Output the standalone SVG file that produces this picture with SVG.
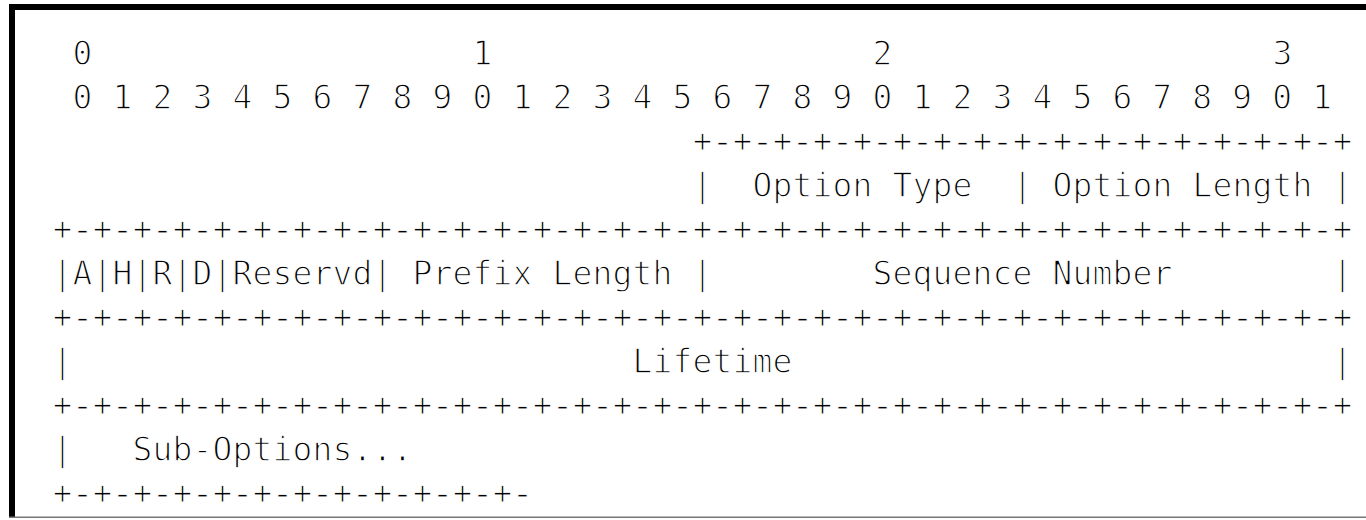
<svg xmlns="http://www.w3.org/2000/svg" width="1366" height="520" viewBox="0 0 1366 520">
  <style>
    text { font-family: "DejaVu Sans Mono", "Liberation Mono", monospace; font-size: 33px; letter-spacing: 0.13px; fill: #000; stroke: #fff; stroke-width: 1.3px; paint-order: fill stroke; }
    #borders text { font-family: "Liberation Mono", "DejaVu Sans Mono", monospace; font-size: 33.33px; letter-spacing: 0px; stroke-width: 0.9px; }
  </style>
  <rect x="0" y="0" width="1366" height="520" fill="#ffffff"/>
  <g id="frame">
    <rect x="9" y="4" width="1357" height="6" fill="#000"/>
    <rect x="9" y="4" width="6" height="514" fill="#000"/>
    <rect x="9" y="516.5" width="1357" height="1.5" fill="#777"/>
  </g>
  <g id="ruler">
    <text x="72.5" y="65">0</text>
    <text x="472.5" y="65">1</text>
    <text x="872.5" y="65">2</text>
    <text x="1272.5" y="65">3</text>
    <text x="72.5" y="109">0 1 2 3 4 5 6 7 8 9 0 1 2 3 4 5 6 7 8 9 0 1 2 3 4 5 6 7 8 9 0 1</text>
  </g>
  <g id="borders">
    <text x="692.5" y="153">+-+-+-+-+-+-+-+-+-+-+-+-+-+-+-+-+</text>
    <text x="52.5" y="241">+-+-+-+-+-+-+-+-+-+-+-+-+-+-+-+-+-+-+-+-+-+-+-+-+-+-+-+-+-+-+-+-+</text>
    <text x="52.5" y="329">+-+-+-+-+-+-+-+-+-+-+-+-+-+-+-+-+-+-+-+-+-+-+-+-+-+-+-+-+-+-+-+-+</text>
    <text x="52.5" y="417">+-+-+-+-+-+-+-+-+-+-+-+-+-+-+-+-+-+-+-+-+-+-+-+-+-+-+-+-+-+-+-+-+</text>
    <text x="52.5" y="505">+-+-+-+-+-+-+-+-+-+-+-+-</text>
  </g>
  <g id="row-option">
    <text x="692.5" y="197">|</text>
    <text x="752.5" y="197">Option Type</text>
    <text x="1012.5" y="197">|</text>
    <text x="1052.5" y="197">Option Length</text>
    <text x="1332.5" y="197">|</text>
  </g>
  <g id="row-flags">
    <text x="52.5" y="285">|A|H|R|D|Reservd|</text>
    <text x="412.5" y="285">Prefix Length</text>
    <text x="692.5" y="285">|</text>
    <text x="872.5" y="285">Sequence Number</text>
    <text x="1332.5" y="285">|</text>
  </g>
  <g id="row-lifetime">
    <text x="52.5" y="373">|</text>
    <text x="632.5" y="373">Lifetime</text>
    <text x="1332.5" y="373">|</text>
  </g>
  <g id="row-suboptions">
    <text x="52.5" y="461">|</text>
    <text x="132.5" y="461">Sub-Options...</text>
  </g>
</svg>
